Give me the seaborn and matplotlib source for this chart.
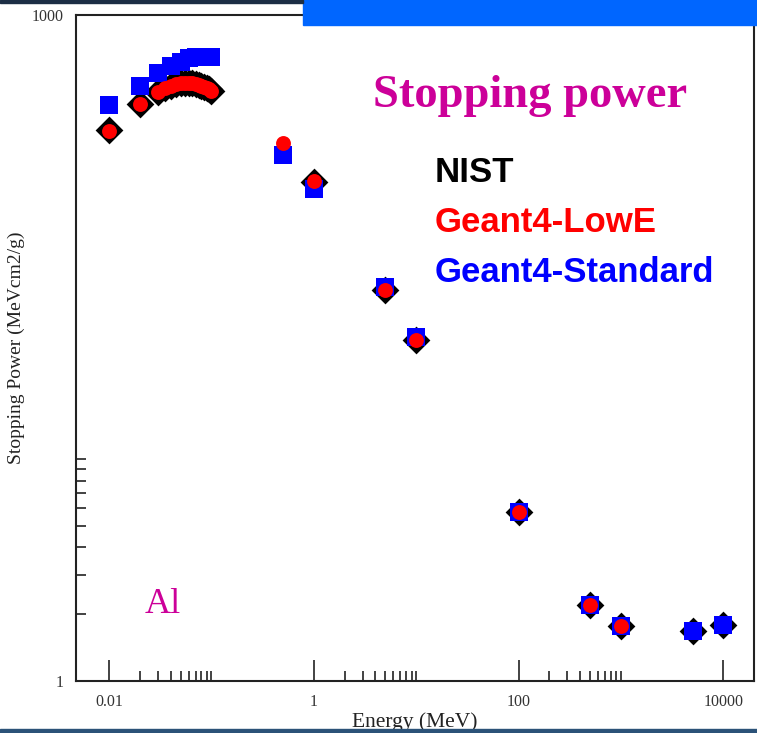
import pandas as pd
import seaborn as sns
import matplotlib.pyplot as plt
from matplotlib.ticker import FixedLocator, FixedFormatter, NullFormatter
from matplotlib.patches import Rectangle

# values (energy in MeV, stopping power in MeV cm2/g)
nist_energy = [0.01, 0.02, 0.03, 0.035, 0.04, 0.045, 0.05, 0.055, 0.06, 0.065, 0.07,
               0.075, 0.08, 0.085, 0.09, 0.095, 0.1, 1, 5, 10, 100, 500, 1000, 5000, 10000]
nist_sp = [303, 397, 450, 470, 480, 487, 492, 494, 494, 494, 490,
           484, 480, 475, 470, 463, 455, 177, 58, 34.4, 5.77, 2.2, 1.77, 1.68, 1.79]

lowe_energy = [0.01, 0.02, 0.03, 0.035, 0.04, 0.045, 0.05, 0.055, 0.06, 0.065, 0.07,
               0.075, 0.08, 0.085, 0.09, 0.095, 0.1, 0.5, 1, 5, 10, 100, 500, 1000]
lowe_sp = [300, 397, 450, 470, 480, 487, 492, 494, 494, 494, 490,
           484, 480, 475, 470, 463, 455, 265, 179, 58, 34.4, 5.77, 2.2, 1.77]

std_energy = [0.01, 0.02, 0.03, 0.04, 0.05, 0.06, 0.07, 0.08, 0.09, 0.1,
              0.5, 1, 5, 10, 100, 500, 1000, 5000, 10000]
std_sp = [393, 479, 548, 590, 615, 640, 648, 650, 650, 650,
          234, 164, 59.5, 35.5, 5.77, 2.2, 1.77, 1.68, 1.79]

x_major = [0.01, 1, 100, 10000]
x_major_labels = ["0.01", "1", "100", "10000"]
y_major = [1, 1000]
y_major_labels = ["1", "1000"]

W, H = 757, 733


def fx(px):
    return px / W


def fy(py):
    return 1 - py / H


def main():
    sns.set_style("white")
    plt.rcParams["font.family"] = ["Liberation Serif", "DejaVu Serif"]

    fig = plt.figure(figsize=(W / 100, H / 100), dpi=100)
    ax = fig.add_axes([fx(76), fy(681), fx(754) - fx(76), fy(15) - fy(681)])

    nist = pd.DataFrame({"energy": nist_energy, "sp": nist_sp})
    lowe = pd.DataFrame({"energy": lowe_energy, "sp": lowe_sp})
    std = pd.DataFrame({"energy": std_energy, "sp": std_sp})

    sns.scatterplot(data=nist, x="energy", y="sp", marker="D", s=200,
                    color="black", linewidth=0, ax=ax, zorder=3)
    sns.scatterplot(data=std, x="energy", y="sp", marker="s", s=150,
                    color="#0000ff", linewidth=0, ax=ax, zorder=4)
    sns.scatterplot(data=lowe, x="energy", y="sp", marker="o", s=115,
                    color="#ff0000", linewidth=0, ax=ax, zorder=5)

    ax.set_xscale("log")
    ax.set_yscale("log")
    ax.set_xlim(0.00476, 19900)
    ax.set_ylim(1, 1000)

    # minor ticks only in every other decade, like the original
    x_minor = [m * d for d in (0.01, 1, 100) for m in range(2, 11)]
    y_minor = list(range(2, 11))
    ax.xaxis.set_major_locator(FixedLocator(x_major))
    ax.xaxis.set_major_formatter(FixedFormatter(x_major_labels))
    ax.xaxis.set_minor_locator(FixedLocator(x_minor))
    ax.xaxis.set_minor_formatter(NullFormatter())
    ax.yaxis.set_major_locator(FixedLocator(y_major))
    ax.yaxis.set_major_formatter(FixedFormatter(y_major_labels))
    ax.yaxis.set_minor_locator(FixedLocator(y_minor))
    ax.yaxis.set_minor_formatter(NullFormatter())

    ax.tick_params(which="both", bottom=True, left=True, top=False, right=False)
    ax.tick_params(which="major", direction="in", length=15, width=1.2,
                   color="#222222", labelsize=11.5, labelcolor="#333333", pad=9)
    ax.tick_params(which="minor", direction="in", length=7.5, width=1.2,
                   color="#222222")

    for sp in ax.spines.values():
        sp.set_linewidth(1.5)
        sp.set_color("#222222")

    ax.set_xlabel("Energy (MeV)", fontsize=15.5, color="#222222", labelpad=2)
    ax.set_ylabel("Stopping Power (MeVcm2/g)", fontsize=14, color="#222222", labelpad=5)

    fig.text(fx(373), fy(107), "Stopping power", fontsize=33.5, fontweight="bold",
             color="#cc0099", va="baseline", ha="left")
    sans = ["Liberation Sans", "DejaVu Sans"]
    fig.text(fx(435), fy(182), "NIST", fontsize=25, fontweight="bold",
             color="black", va="baseline", family=sans)
    fig.text(fx(435), fy(232), "Geant4-LowE", fontsize=25, fontweight="bold",
             color="#ff0000", va="baseline", family=sans)
    fig.text(fx(435), fy(282), "Geant4-Standard", fontsize=25, fontweight="bold",
             color="#0000ff", va="baseline", family=sans)
    fig.text(fx(145), fy(613), "Al", fontsize=26, color="#cc0099", va="baseline")

    # slide decoration: title banner and frame strips
    fig.patches.append(Rectangle((fx(303), fy(25)), 1 - fx(303), fy(0) - fy(25),
                                 transform=fig.transFigure, color="#0066ff", zorder=10))
    fig.patches.append(Rectangle((0, fy(3)), fx(303), fy(0) - fy(3),
                                 transform=fig.transFigure, color="#1c2e45", zorder=10))
    fig.patches.append(Rectangle((0, 0), 1, fy(729), transform=fig.transFigure,
                                 color="#2b5278", zorder=10))

    fig.savefig("out.png", dpi=100)
    plt.close(fig)


if __name__ == "__main__":
    main()
